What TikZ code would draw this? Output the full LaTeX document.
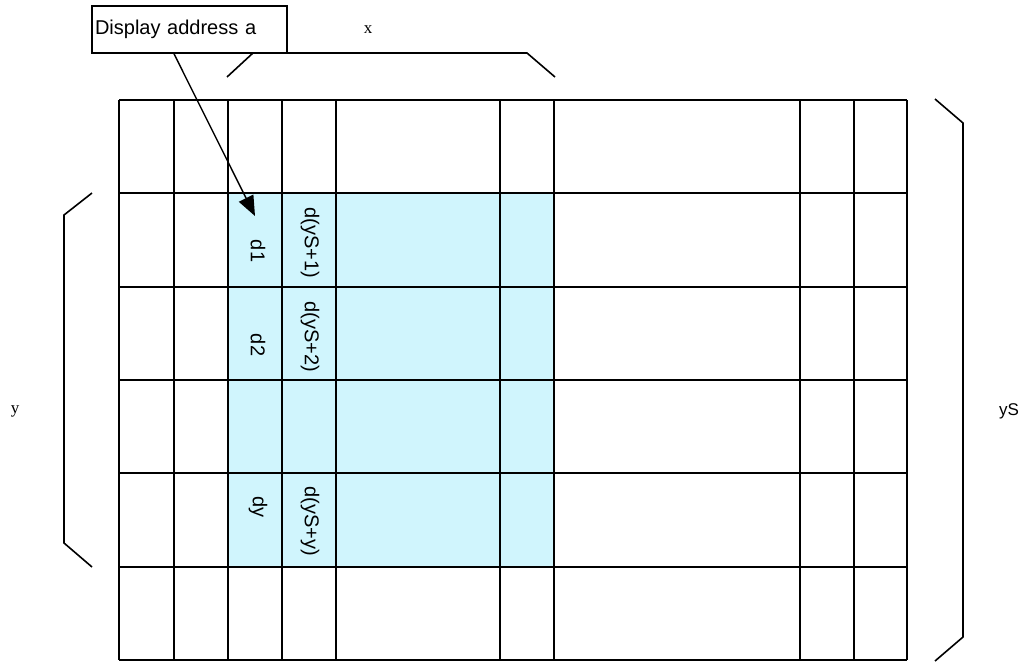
\documentclass[tikz,border=0pt]{standalone}
\usepackage{fontspec}
\setmainfont{Liberation Sans}
\newfontfamily\serifface{Liberation Serif}
\usetikzlibrary{arrows.meta}
\definecolor{cellblue}{RGB}{208,245,253}

\begin{document}
\begin{tikzpicture}[x=1pt,y=-1pt,
  gridline/.style={line width=1.4pt},
  bracket/.style={line width=1.6pt},
  addrbox/.style={draw,line width=1.6pt,minimum width=195pt,minimum height=47pt,
    text width=189pt,inner sep=3pt,align=left,font=\fontsize{20}{24}\selectfont},
  celltext/.style={rotate=-90,inner sep=0pt,font=\fontsize{20}{24}\selectfont},
  dimtext/.style={font=\serifface\fontsize{17}{20}\selectfont}]
\useasboundingbox (0,0) rectangle (1024,661);
\fill[cellblue] (228,193) rectangle (554,567);
\foreach \x in {119,174,228,282,336,500,554,800,854,907}
  \draw[gridline] (\x,100) -- (\x,660);
\foreach \y in {100,193,287,380,473,567,660}
  \draw[gridline] (119,\y) -- (907,\y);

\draw[bracket] (227,77) -- (253,53) -- (527,53) -- (555,77);
\draw[bracket] (92,193) -- (64,215) -- (64,543) -- (92,567);
\draw[bracket] (935,99) -- (963,123) -- (963,637) -- (935,661);

\node[addrbox,fill=white] (addr) at (189.5,29.5) {Display address a};
\coordinate (tip) at (255,216);
\draw[line width=1.4pt,-{Triangle[length=20pt,width=16pt]}] ([xshift=-15.5pt]addr.south) -- (tip);

\node[celltext] (d1) at (258,251) {d1};
\node[celltext] (dS1) at (310,243) {d(yS+1)};
\node[celltext] (d2) at (258,345) {d2};
\node[celltext] (dS2) at (310,337) {d(yS+2)};
\node[celltext] (dy) at (258,507) {dy};
\node[celltext] (dSy) at (310,521) {d(yS+y)};

\node[dimtext] (xlab) at (368,30) {x};
\node[dimtext] (ylab) at (15,411) {y};
\node[font=\fontsize{17}{20}\selectfont] (yslab) at (1009,411) {yS};
\end{tikzpicture}
\end{document}
